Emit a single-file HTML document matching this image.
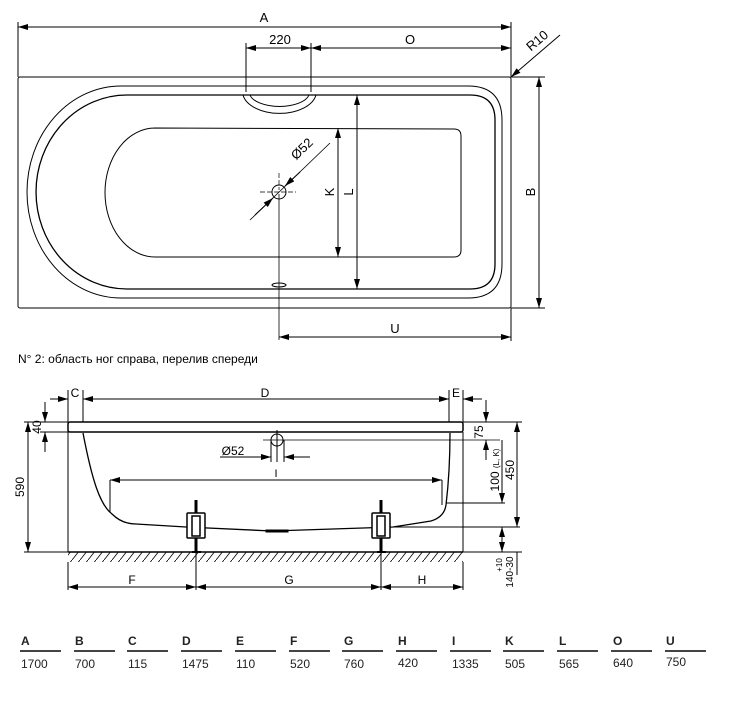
<!DOCTYPE html>
<html><head><meta charset="utf-8"><style>
html,body{margin:0;padding:0;background:#fff;}
svg{display:block;font-family:"Liberation Sans",sans-serif;}
</style></head><body>
<svg width="750" height="706" viewBox="0 0 750 706" xmlns="http://www.w3.org/2000/svg">
<defs>
<marker id="a" viewBox="0 0 10 6" refX="10" refY="3" markerWidth="10" markerHeight="6" markerUnits="userSpaceOnUse" orient="auto-start-reverse"><path d="M0,0 L10,3 L0,6 z" fill="#000"/></marker>
<pattern id="h" width="8" height="10" patternUnits="userSpaceOnUse"><path d="M0,10 L8,0" stroke="#000" stroke-width="0.8"/></pattern>
</defs>
<g stroke="#000" fill="none" stroke-width="1">
<rect x="18" y="77" width="493" height="231" rx="2"/>
<path d="M121,86 L468,86 Q502,86 502,120 L502,264 Q502,298 468,298 L121,298 A94,106 0 0 1 121,86 Z"/>
<path d="M127,95 L470,95 Q495,95 495,120 L495,264 Q495,289 470,289 L127,289 A91,97 0 0 1 127,95 Z" stroke-width="1.3"/>
<path d="M155,128 L454,129 Q461,129 461,136 L461,250 Q461,257 454,257 L155,257 A50,64.5 0 0 1 155,128 Z"/>
<path d="M243,95 A37,22 0 0 0 316,95"/>
<path d="M250,95 A30,14 0 0 0 309,95"/>
<circle cx="279" cy="192" r="7"/>
<path d="M260,192 H296 M279,173 V190" stroke-dasharray="5,2" stroke-width="0.7"/>
<line x1="279" y1="194" x2="279" y2="340" stroke-width="0.8"/>
<ellipse cx="279" cy="285" rx="7" ry="2"/>
<line x1="250" y1="220" x2="330" y2="143" stroke-width="0.8"/>
<line x1="255" y1="215" x2="273" y2="198" marker-end="url(#a)"/>
<line x1="300" y1="172" x2="285" y2="186" marker-end="url(#a)"/>
<line x1="18" y1="27" x2="511" y2="27" marker-start="url(#a)" marker-end="url(#a)"/>
<line x1="18" y1="22" x2="18" y2="77"/><line x1="511" y1="22" x2="511" y2="77"/>
<line x1="246" y1="48" x2="311" y2="48" marker-start="url(#a)" marker-end="url(#a)"/>
<line x1="311" y1="48" x2="511" y2="48" marker-start="url(#a)" marker-end="url(#a)"/>
<line x1="246" y1="43" x2="246" y2="92"/><line x1="311" y1="43" x2="311" y2="92"/>
<line x1="560" y1="35" x2="511" y2="77" marker-end="url(#a)"/>
<line x1="511" y1="77" x2="545" y2="77"/><line x1="511" y1="308" x2="545" y2="308"/>
<line x1="539" y1="77" x2="539" y2="308" marker-start="url(#a)" marker-end="url(#a)"/>
<line x1="511" y1="308" x2="511" y2="341"/>
<line x1="279" y1="337" x2="511" y2="337" marker-start="url(#a)" marker-end="url(#a)"/>
<line x1="338" y1="128" x2="338" y2="257" marker-start="url(#a)" marker-end="url(#a)"/>
<line x1="357" y1="95" x2="357" y2="289" marker-start="url(#a)" marker-end="url(#a)"/>
<rect x="68" y="422" width="395" height="10" rx="2" stroke-width="1.5"/>
<line x1="68" y1="422" x2="68" y2="552"/><line x1="463" y1="432" x2="463" y2="552"/>
<line x1="68" y1="390" x2="68" y2="422"/><line x1="83" y1="390" x2="83" y2="422"/>
<line x1="449" y1="390" x2="449" y2="422"/><line x1="463" y1="390" x2="463" y2="422"/>
<line x1="50" y1="399" x2="68" y2="399" marker-end="url(#a)"/>
<line x1="83" y1="399" x2="449" y2="399" marker-start="url(#a)" marker-end="url(#a)"/>
<line x1="463" y1="399" x2="482" y2="399" marker-start="url(#a)"/>
<path d="M83,433 C92,480 100,505 112,514 C120,522 128,524 136,524 L186,527 L272,531 L393,527 L431,521 C441,518 445,512 446,505 C449,480 450,450 450,433" stroke-width="1.3"/>
<path d="M266,530 h22 v2 h-22 z" fill="#000"/>
<circle cx="277" cy="440" r="6"/>
<line x1="277" y1="430" x2="277" y2="462"/><line x1="271" y1="440" x2="271" y2="462"/><line x1="284" y1="440" x2="284" y2="462"/>
<line x1="263" y1="440" x2="500" y2="440" stroke-width="0.8"/>
<line x1="220" y1="457" x2="271" y2="457" marker-end="url(#a)"/>
<line x1="310" y1="457" x2="284" y2="457" marker-end="url(#a)"/>
<line x1="110" y1="480" x2="442" y2="480" marker-start="url(#a)" marker-end="url(#a)"/>
<line x1="110" y1="480" x2="110" y2="512"/><line x1="442" y1="480" x2="442" y2="505"/>
<line x1="446" y1="503" x2="505" y2="503"/>
<line x1="380" y1="527" x2="520" y2="527"/>
<g fill="#fff" stroke-width="1.5">
<rect x="187" y="513" width="18" height="25" rx="1"/><rect x="192" y="516" width="8" height="20"/>
<rect x="372" y="513" width="18" height="25" rx="1"/><rect x="377" y="516" width="8" height="20"/>
</g>
<path d="M196,500 V513 M196,538 V551 M381,500 V513 M381,538 V551" stroke-width="3"/>
<path d="M192,552 h9 M377,552 h9" stroke-width="2"/>
<rect x="68" y="552" width="395" height="10" fill="url(#h)" stroke="none"/>
<line x1="68" y1="552" x2="463" y2="552" stroke-width="1.5"/>
<line x1="196" y1="552" x2="196" y2="590"/><line x1="381" y1="552" x2="381" y2="590"/>
<line x1="68" y1="562" x2="68" y2="590"/><line x1="463" y1="562" x2="463" y2="590"/>
<line x1="68" y1="587" x2="196" y2="587" marker-start="url(#a)" marker-end="url(#a)"/>
<line x1="196" y1="587" x2="381" y2="587" marker-start="url(#a)" marker-end="url(#a)"/>
<line x1="381" y1="587" x2="463" y2="587" marker-start="url(#a)" marker-end="url(#a)"/>
<line x1="24" y1="422" x2="68" y2="422"/><line x1="40" y1="432" x2="68" y2="432"/><line x1="24" y1="552" x2="68" y2="552"/>
<line x1="28" y1="422" x2="28" y2="552" marker-start="url(#a)" marker-end="url(#a)"/>
<line x1="45" y1="402" x2="45" y2="422" marker-end="url(#a)"/>
<line x1="45" y1="452" x2="45" y2="432" marker-end="url(#a)"/>
<line x1="463" y1="422" x2="522" y2="422"/>
<line x1="486" y1="400" x2="486" y2="422" marker-end="url(#a)"/>
<line x1="486" y1="460" x2="486" y2="440" marker-end="url(#a)"/>
<line x1="502" y1="440" x2="502" y2="503" marker-end="url(#a)"/>
<line x1="517" y1="422" x2="517" y2="527" marker-start="url(#a)" marker-end="url(#a)"/>
<line x1="463" y1="552" x2="522" y2="552"/>
<line x1="502" y1="527" x2="502" y2="552" marker-start="url(#a)" marker-end="url(#a)"/>
<line x1="517" y1="552" x2="517" y2="575" />
</g>
<g font-size="13" fill="#000">
<text x="264" y="22" text-anchor="middle">A</text>
<text x="280" y="44" text-anchor="middle">220</text>
<text x="410" y="44" text-anchor="middle">O</text>
<text x="540" y="44" transform="rotate(-40 540 44)" text-anchor="middle">R10</text>
<text x="539" y="192" transform="rotate(-90 539 192)" text-anchor="middle" dy="-4">B</text>
<text x="395" y="333" text-anchor="middle">U</text>
<text x="334" y="192" transform="rotate(-90 334 192)" text-anchor="middle">K</text>
<text x="353" y="192" transform="rotate(-90 353 192)" text-anchor="middle">L</text>
<text x="305" y="152" transform="rotate(-44 305 152)" text-anchor="middle">Ø52</text>
<text x="18" y="363" font-size="12">N° 2: область ног справа, перелив спереди</text>
<text x="75" y="397" text-anchor="middle" font-size="12">C</text>
<text x="265" y="397" text-anchor="middle" font-size="12">D</text>
<text x="456" y="397" text-anchor="middle" font-size="12">E</text>
<text x="233" y="455" text-anchor="middle" font-size="12">Ø52</text>
<text x="276" y="477" text-anchor="middle" font-size="11">I</text>
<text x="132" y="584" text-anchor="middle" font-size="12">F</text>
<text x="289" y="584" text-anchor="middle" font-size="12">G</text>
<text x="422" y="584" text-anchor="middle" font-size="12">H</text>
<text x="24" y="487" transform="rotate(-90 24 487)" text-anchor="middle" font-size="12">590</text>
<text x="41" y="427" transform="rotate(-90 41 427)" text-anchor="middle" font-size="12">40</text>
<text x="483" y="432" transform="rotate(-90 483 432)" text-anchor="middle" font-size="12">75</text>
<text x="499" y="470" transform="rotate(-90 499 470)" text-anchor="middle" font-size="12">100 <tspan font-size="8">(L, K)</tspan></text>
<text x="514" y="470" transform="rotate(-90 514 470)" text-anchor="middle" font-size="12">450</text>
<text x="502" y="565" transform="rotate(-90 502 565)" text-anchor="middle" font-size="8">+10</text>
<text x="513" y="572" transform="rotate(-90 513 572)" text-anchor="middle" font-size="10">140-30</text>
</g>
<g font-size="12" fill="#222">
<g font-weight="bold">
<text x="21" y="645">A</text><text x="75" y="645">B</text><text x="128" y="645">C</text><text x="182" y="645">D</text><text x="236" y="645">E</text><text x="290" y="645">F</text><text x="344" y="645">G</text><text x="398" y="645">H</text><text x="452" y="645">I</text><text x="505" y="645">K</text><text x="559" y="645">L</text><text x="613" y="645">O</text><text x="666" y="645">U</text>
</g>
<g stroke="#444" stroke-width="2">
<line x1="20" y1="651" x2="61" y2="651"/><line x1="74" y1="651" x2="115" y2="651"/><line x1="127" y1="651" x2="168" y2="651"/><line x1="181" y1="651" x2="222" y2="651"/><line x1="235" y1="651" x2="276" y2="651"/><line x1="289" y1="651" x2="330" y2="651"/><line x1="342" y1="651" x2="383" y2="651"/><line x1="396" y1="651" x2="437" y2="651"/><line x1="450" y1="651" x2="491" y2="651"/><line x1="503" y1="651" x2="544" y2="651"/><line x1="557" y1="651" x2="598" y2="651"/><line x1="611" y1="651" x2="652" y2="651"/><line x1="665" y1="651" x2="706" y2="651"/>
</g>
<text x="21" y="668">1700</text><text x="75" y="668">700</text><text x="128" y="668">115</text><text x="182" y="668">1475</text><text x="236" y="668">110</text><text x="290" y="668">520</text><text x="344" y="668">760</text><text x="398" y="667">420</text><text x="452" y="668">1335</text><text x="505" y="668">505</text><text x="559" y="668">565</text><text x="613" y="667">640</text><text x="666" y="666">750</text>
</g>
</svg>
</body></html>
